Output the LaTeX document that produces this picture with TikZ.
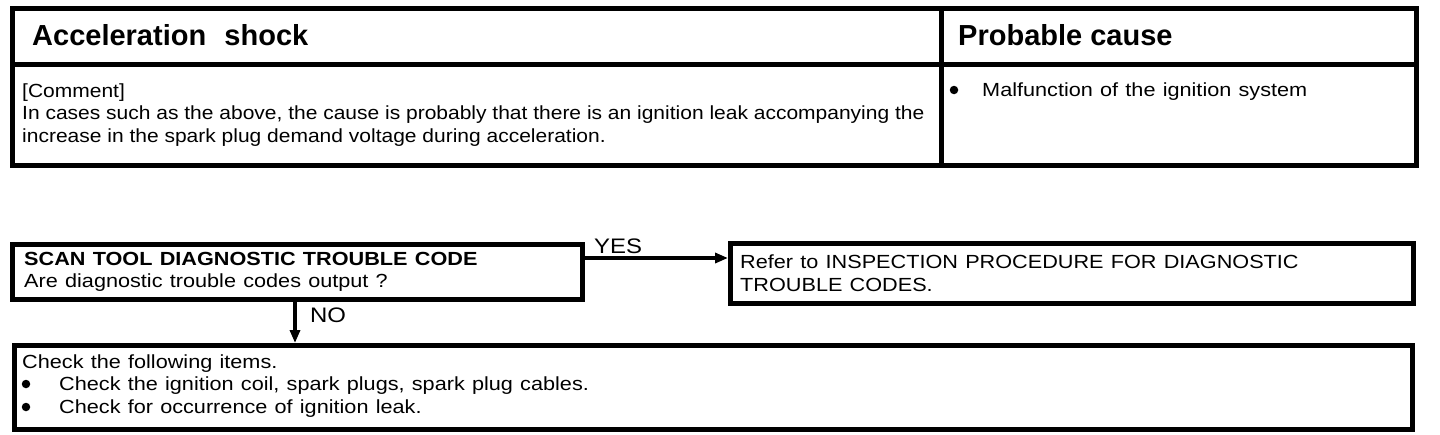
\documentclass[tikz,border=0pt]{standalone}
\usepackage{fontspec}
\setmainfont{Liberation Sans}
\newfontfamily\tabfont[FakeStretch=1.105]{Liberation Sans}
\newfontfamily\flowfont[FakeStretch=1.14,WordSpace=1.2]{Liberation Sans}
\usetikzlibrary{arrows.meta}
\begin{document}
\begin{tikzpicture}[x=1pt,y=-1pt,
  txt/.style={anchor=base west, inner sep=0pt},
  head/.style={txt, font=\fontsize{29}{32}\selectfont\bfseries},
  tbody/.style={txt, font=\tabfont\fontsize{19}{22}\selectfont},
  fbody/.style={txt, font=\flowfont\fontsize{19}{22}\selectfont},
  fhead/.style={txt, font=\flowfont\fontsize{19}{22}\selectfont\bfseries},
  lbl/.style={txt, font=\flowfont\fontsize{21}{24}\selectfont},
  box/.style={draw, line width=4.5pt, inner sep=0pt, anchor=north west},
  dot/.style={circle, fill, inner sep=0pt, minimum size=8.5pt},
  arr/.style={line width=4.5pt, -{Triangle[length=13pt,width=10pt]}},
  rule/.style={line width=5pt}]
\useasboundingbox (0,0) rectangle (1440,434);
% top table
\draw[rule] (12,8) rectangle (1416,165);
\draw[rule] (12,64) -- (1416,64);
\draw[rule] (941,8) -- (941,165);
\node[head] (h1) at (32,45) {Acceleration\hspace{0.35em} shock};
\node[head] (h2) at (958,45) {Probable cause};
\node[tbody] (c1) at (22,97) {[Comment]};
\node[tbody] (c2) at (22,119) {In cases such as the above, the cause is probably that there is an ignition leak accompanying the};
\node[tbody] (c3) at (22,142) {increase in the spark plug demand voltage during acceleration.};
\node[dot] (d0) at (954,90) {};
\node[fbody] (p1) at (982,96) {Malfunction of the ignition system};
% flowchart
\node[box, minimum width=570pt, minimum height=55pt] (q) at (10,242) {};
\node[box, minimum width=683pt, minimum height=60pt] (r) at (728,241) {};
\node[box, minimum width=1398pt, minimum height=84pt] (c) at (12,343) {};
\node[fhead] (q1) at (24,265) {SCAN TOOL DIAGNOSTIC TROUBLE CODE};
\node[fbody] (q2) at (24,287) {Are diagnostic trouble codes output ?};
\node[fbody] (r1) at (740,268) {Refer to INSPECTION PROCEDURE FOR DIAGNOSTIC};
\node[fbody] (r2) at (740,291) {TROUBLE CODES.};
\node[fbody] (k1) at (22,368) {Check the following items.};
\node[dot] (d1) at (26,384) {};
\node[fbody] (k2) at (59,390) {Check the ignition coil, spark plugs, spark plug cables.};
\node[dot] (d2) at (26,407) {};
\node[fbody] (k3) at (59,413) {Check for occurrence of ignition leak.};
\coordinate (yesy) at (0,258);
\coordinate (nox) at (295,0);
\draw[arr] (q.east |- yesy) -- (r.west |- yesy);
\draw[arr] (q.south -| nox) -- (c.north -| nox);
\node[lbl] (yes) at (594,253) {YES};
\node[lbl] (no) at (310,322) {NO};
\end{tikzpicture}
\end{document}
